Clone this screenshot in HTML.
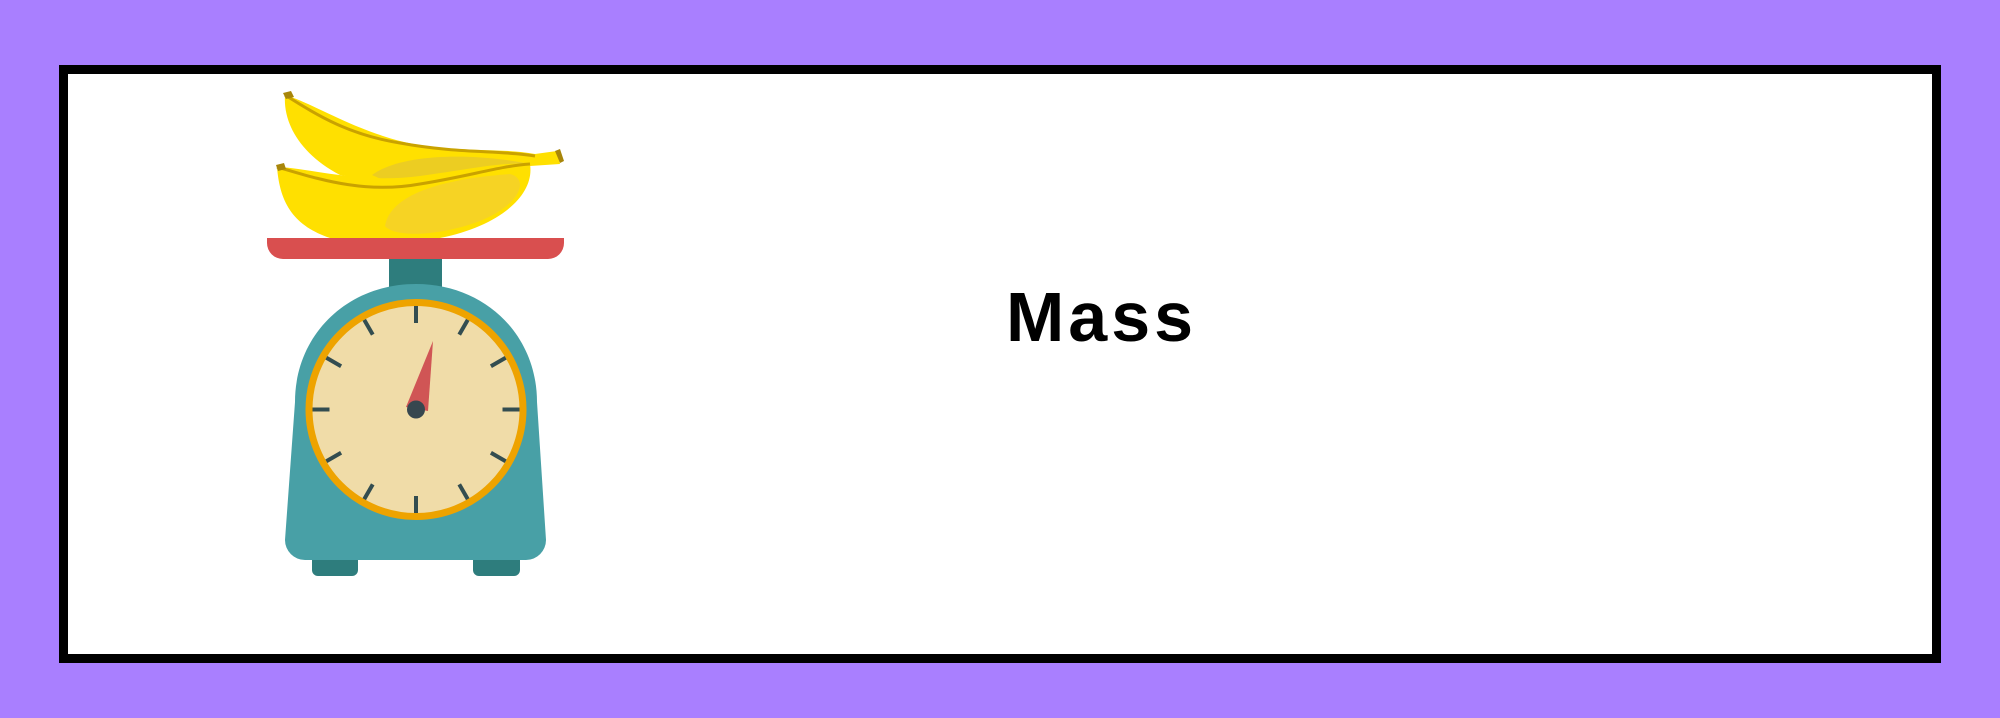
<!DOCTYPE html>
<html><head><style>
html,body{margin:0;padding:0;}
body{width:2000px;height:718px;background:#a97fff;position:relative;overflow:hidden;}
#box{position:absolute;left:59px;top:65px;width:1864px;height:580px;border:9px solid #000;background:#fff;}
#t{position:absolute;left:1006px;top:277px;font:bold 70px "Liberation Sans",sans-serif;letter-spacing:4px;color:#000;line-height:80px;}
svg{position:absolute;left:0;top:0;}
</style></head><body>
<div id="box"></div>
<div id="t">Mass</div>
<svg width="2000" height="718" viewBox="0 0 2000 718">
<!-- top banana -->
<path d="M285,95 C310,102 350,128 400,141 C450,154 500,147 535,154 L557,151 L560,164 L530,166 C480,172 430,180 395,185 L340,175 C300,154 283,123 285,95 Z" fill="#ffe000"/>
<path d="M372,175 C400,154 470,152 530,164 L470,180 L390,183 Z" fill="#eccd22"/>
<path d="M285,95 C320,117 350,135 400,143 C460,154 500,150 535,156" stroke="#c9a200" stroke-width="3" fill="none"/>
<path d="M283,93 l8,-2 l3,6 l-8,2z" fill="#a8860a"/>
<path d="M555,151 l5,-2 l4,12 l-4,2z" fill="#a8860a"/>
<!-- bottom banana -->
<path d="M277,167 C310,168 360,184 420,176 C470,169 500,162 530,164 C535,195 500,226 440,238 L330,238 C295,226 280,205 277,167 Z" fill="#ffe000"/>
<path d="M385,226 C390,195 440,179 510,174 C530,179 520,205 480,221 C440,236 395,238 385,226 Z" fill="#f6d324"/>
<path d="M277,167 C310,176 360,195 420,184 C470,176 500,166 530,164" stroke="#c9a200" stroke-width="3" fill="none"/>
<path d="M276,165 l8,-2 l2,6 l-8,2z" fill="#a8860a"/>
<!-- pan -->
<path d="M267,238 H564 V243 A16,16 0 0 1 548,259 H283 A16,16 0 0 1 267,243 Z" fill="#d94f4f"/>
<rect x="389" y="259" width="53" height="32" fill="#2e7d7d"/>
<!-- feet -->
<rect x="312" y="552" width="46" height="24" rx="6" fill="#2e7d7d"/>
<rect x="473" y="552" width="47" height="24" rx="6" fill="#2e7d7d"/>
<!-- body -->
<path d="M416,284 C485,284 537,335 537,402 L546,540 A20,20 0 0 1 526,560 H305 A20,20 0 0 1 285,540 L295,402 C295,335 347,284 416,284 Z" fill="#48a0a6"/>
<circle cx="416" cy="409.5" r="107" fill="#f0dca8" stroke="#eea300" stroke-width="7"/>
<g stroke="#334d50" stroke-width="4">
<g id="tk"><line x1="416" y1="306" x2="416" y2="323"/></g>
<use href="#tk" transform="rotate(30 416 409.5)"/>
<use href="#tk" transform="rotate(60 416 409.5)"/>
<use href="#tk" transform="rotate(90 416 409.5)"/>
<use href="#tk" transform="rotate(120 416 409.5)"/>
<use href="#tk" transform="rotate(150 416 409.5)"/>
<use href="#tk" transform="rotate(180 416 409.5)"/>
<use href="#tk" transform="rotate(210 416 409.5)"/>
<use href="#tk" transform="rotate(240 416 409.5)"/>
<use href="#tk" transform="rotate(270 416 409.5)"/>
<use href="#tk" transform="rotate(300 416 409.5)"/>
<use href="#tk" transform="rotate(330 416 409.5)"/>
</g>
<path d="M433,341 L428,411 L406,407 Z" fill="#d05555"/>
<circle cx="416" cy="409.5" r="9" fill="#37474f"/>
</svg>
</body></html>
